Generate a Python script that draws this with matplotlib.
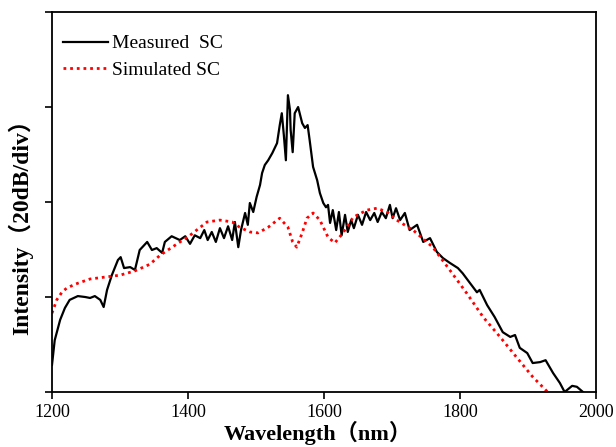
import matplotlib
matplotlib.use("Agg")
import matplotlib.pyplot as plt

# measured supercontinuum (nm, dB relative, 20 dB per division)
meas_wl = [1200, 1204, 1212, 1219, 1226, 1238, 1249, 1256, 1263, 1271, 1276, 1281,
           1288, 1297, 1301, 1306, 1315, 1322, 1329, 1340, 1347, 1354, 1362, 1366,
           1376, 1388, 1396, 1403, 1410, 1418, 1424, 1429, 1435, 1441, 1447, 1453,
           1459, 1465, 1469, 1474, 1478, 1484, 1488, 1491, 1496, 1501, 1506, 1509,
           1513, 1518, 1524, 1531, 1535, 1538, 1541, 1544, 1547, 1550, 1551, 1554,
           1557, 1562, 1568, 1572, 1576, 1579, 1584, 1590, 1594, 1599, 1603, 1606,
           1609, 1613, 1618, 1622, 1626, 1631, 1635, 1640, 1644, 1650, 1656, 1662,
           1668, 1674, 1679, 1685, 1691, 1697, 1701, 1706, 1712, 1719, 1726, 1737,
           1746, 1756, 1766, 1775, 1785, 1797, 1804, 1815, 1825, 1829, 1840, 1851,
           1863, 1874, 1881, 1888, 1899, 1907, 1918, 1926, 1937, 1947, 1954, 1965,
           1972, 1981]
meas_db = [5.7, 10.9, 15.2, 17.7, 19.4, 20.2, 20.0, 19.8, 20.2, 19.4, 17.9, 21.5,
           24.6, 27.8, 28.4, 26.1, 26.3, 25.7, 29.9, 31.6, 29.9, 30.3, 29.3, 31.6,
           32.8, 32.0, 32.8, 31.2, 33.0, 32.4, 34.1, 32.0, 33.7, 31.6, 34.5, 32.4,
           34.9, 32.0, 35.8, 30.5, 34.1, 37.7, 35.2, 39.8, 37.9, 41.1, 43.6, 46.1,
           47.8, 48.8, 50.3, 52.4, 56.2, 58.7, 54.1, 48.8, 62.5, 59.4, 55.2, 50.5,
           58.7, 60.0, 56.6, 55.6, 56.2, 53.0, 47.4, 44.6, 41.9, 39.8, 38.9, 39.4,
           35.6, 38.3, 34.1, 37.9, 33.0, 37.3, 33.7, 36.2, 34.5, 37.3, 35.2, 37.9,
           36.2, 37.7, 35.8, 37.9, 36.6, 39.4, 36.6, 38.7, 36.2, 37.7, 34.1, 35.2,
           31.6, 32.4, 29.5, 28.2, 27.2, 26.1, 25.0, 22.9, 21.0, 21.5, 18.3, 15.8,
           12.6, 11.6, 12.0, 9.3, 8.2, 6.1, 6.3, 6.7, 4.0, 1.9, 0.0, 1.3,
           1.1, 0.0]

# simulated supercontinuum
sim_wl = [1200, 1207, 1215, 1222, 1234, 1256, 1278, 1300, 1322, 1344, 1359, 1381,
          1403, 1428, 1447, 1465, 1476, 1491, 1503, 1518, 1535, 1547, 1554, 1560,
          1568, 1575, 1584, 1594, 1606, 1616, 1628, 1643, 1663, 1678, 1693, 1707,
          1731, 1760, 1785, 1810, 1834, 1859, 1884, 1907, 1929]
sim_db = [16.6, 19.4, 21.1, 21.9, 22.7, 23.8, 24.2, 24.6, 25.5, 26.9, 28.8, 30.9,
          33.0, 35.8, 36.2, 35.8, 34.7, 33.7, 33.5, 34.7, 36.6, 34.7, 31.6, 30.5,
          33.5, 36.6, 37.7, 36.2, 32.6, 31.4, 33.5, 36.8, 38.3, 38.7, 37.9, 36.2,
          34.1, 30.5, 25.7, 20.8, 15.8, 11.6, 7.2, 3.2, 0.0]

xticks = [1200, 1400, 1600, 1800, 2000]
yticks = [0, 20, 40, 60, 80]

fig = plt.figure(figsize=(6.16, 4.47), dpi=100)
ax = fig.add_axes([0.0844, 0.123, 0.883, 0.850])

ax.plot(meas_wl, meas_db, color="black", lw=1.6, label="Measured  SC")
ax.plot(sim_wl, sim_db, color="#ff0000", lw=2.0, dashes=(1, 1.4), label="Simulated SC")

ax.set_xlim(1200, 2000)
ax.set_ylim(0, 80)
ax.set_xticks(xticks)
ax.set_yticks(yticks)
ax.set_yticklabels([])
ax.tick_params(direction="out", length=5, width=1.2, labelsize=13)
for lab in ax.get_xticklabels():
    lab.set_fontfamily("Liberation Serif")
for s in ax.spines.values():
    s.set_linewidth(1.3)

fam = ["Liberation Serif", "Noto Sans CJK SC"]
ax.set_xlabel("Wavelength（nm）", family=fam, fontsize=16, fontweight="bold")
ax.set_ylabel("Intensity（20dB/div）", family=fam, fontsize=17, fontweight="bold")
ax.xaxis.set_label_coords(0.488, -0.075)
ax.yaxis.set_label_coords(-0.035, 0.45)

ax.legend(loc="upper left", frameon=False, prop={"family": "Liberation Serif", "size": 14},
          handlelength=2.3, handletextpad=0.25, labelspacing=0.45,
          borderpad=0, borderaxespad=0, bbox_to_anchor=(0.02, 0.94))

fig.savefig("out.png", dpi=100)
